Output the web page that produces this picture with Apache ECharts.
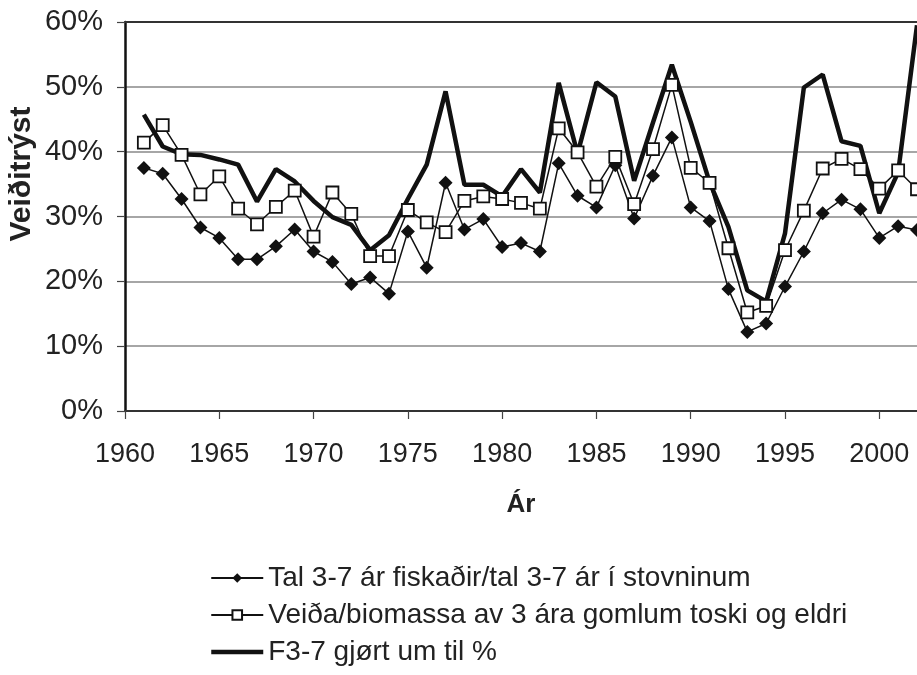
<!DOCTYPE html>
<html>
<head>
<meta charset="utf-8">
<script src="https://cdn.jsdelivr.net/npm/echarts@6/dist/echarts.min.js"></script>
<style>html,body{margin:0;padding:0;background:#fff;}#c{width:917px;height:675px;}</style>
</head>
<body>
<div id="c"></div>
<script>
const years = [1961,1962,1963,1964,1965,1966,1967,1968,1969,1970,1971,1972,1973,1974,1975,1976,1977,1978,1979,1980,1981,1982,1983,1984,1985,1986,1987,1988,1989,1990,1991,1992,1993,1994,1995,1996,1997,1998,1999,2000,2001,2002];
const talValues = [37.5,36.6,32.7,28.3,26.7,23.4,23.4,25.4,28.0,24.6,23.0,19.6,20.6,18.1,27.7,22.1,35.2,28.0,29.6,25.3,25.9,24.6,38.2,33.2,31.4,37.9,29.7,36.3,42.2,31.4,29.3,18.8,12.2,13.5,19.2,24.6,30.5,32.6,31.1,26.7,28.5,27.9];
const veidaValues = [41.4,44.1,39.5,33.4,36.2,31.2,28.8,31.5,34.0,26.9,33.7,30.4,23.9,23.9,31.0,29.1,27.6,32.4,33.1,32.7,32.1,31.2,43.6,39.9,34.6,39.2,31.9,40.4,50.3,37.5,35.2,25.1,15.2,16.2,24.8,30.9,37.4,38.9,37.3,34.3,37.1,34.2];
const f37Values = [45.7,40.8,39.6,39.5,38.8,38.0,32.3,37.3,35.4,32.4,29.9,28.7,24.8,27.1,32.7,38.0,49.3,34.9,34.9,33.1,37.3,33.7,50.6,39.7,50.7,48.5,35.5,44.5,53.4,44.6,35.3,28.4,18.6,16.9,27.4,49.9,51.9,41.6,40.9,30.5,36.8,59.5];
const seriesNames = ['Tal 3-7 ár fiskaðir/tal 3-7 ár í stovninum','Veiða/biomassa av 3 ára gomlum toski og eldri','F3-7 gjørt um til %'];
const yTickLabels = ['0%','10%','20%','30%','40%','50%','60%'];
const xTitle = 'Ár';
const yTitle = 'Veiðitrýst';

const pair = arr => years.map((y,i)=>[y,arr[i]]);
const FONT = "'Liberation Sans', Arial, sans-serif";
const chart = echarts.init(document.getElementById('c'), null, {renderer:'canvas'});
chart.setOption({
  animation:false,
  backgroundColor:'#fff',
  textStyle:{fontFamily:FONT},
  grid:{left:125,right:-6,top:22,bottom:264,containLabel:false},
  graphic:[{
    type:'text',x:22,y:174,rotation:Math.PI/2,
    style:{text:yTitle,font:"bold 30px 'Liberation Sans', Arial, sans-serif",fill:'#222',textAlign:'center',textVerticalAlign:'middle'}
  }],
  legend:{
    orient:'vertical',left:204,top:559,itemWidth:52,itemHeight:12,itemGap:9,
    textStyle:{fontSize:28,color:'#222',fontFamily:FONT},
    data:[
      {name:seriesNames[0]},
      {name:seriesNames[1]},
      {name:seriesNames[2],itemStyle:{color:'transparent',borderColor:'transparent',borderWidth:0,opacity:0},lineStyle:{width:4.5,color:'#111'}}
    ]
  },
  xAxis:[{
    type:'value',min:1960,max:2002,interval:5,
    name:xTitle,nameLocation:'middle',nameGap:81,
    nameTextStyle:{fontSize:26,fontWeight:'bold',color:'#222',fontFamily:FONT},
    axisLine:{show:true,onZero:false,lineStyle:{color:'#333',width:2}},
    axisTick:{show:true,inside:false,length:8,lineStyle:{color:'#444',width:1.2}},
    axisLabel:{fontSize:27,color:'#222',margin:30,showMaxLabel:false,formatter:v=>String(v),fontFamily:FONT},
    splitLine:{show:false}
  },{
    type:'value',min:1960,max:2002,position:'top',
    axisLine:{show:true,onZero:false,lineStyle:{color:'#333',width:2}},
    axisTick:{show:false},axisLabel:{show:false},splitLine:{show:false}
  }],
  yAxis:{
    type:'value',min:0,max:60,interval:10,
    axisLine:{show:true,lineStyle:{color:'#111',width:2.5}},
    axisTick:{show:true,inside:false,length:8,lineStyle:{color:'#444',width:1.2}},
    axisLabel:{fontSize:29,color:'#222',margin:22,formatter:v=>yTickLabels[Math.round(v/10)],fontFamily:FONT},
    splitLine:{show:true,lineStyle:{color:'#888',width:1.5}}
  },
  series:[{
    name:seriesNames[0],type:'line',data:pair(talValues),z:3,
    symbol:'diamond',symbolSize:14,showAllSymbol:true,
    lineStyle:{color:'#111',width:1.5},itemStyle:{color:'#111'}
  },{
    name:seriesNames[1],type:'line',data:pair(veidaValues),z:4,
    symbol:'rect',symbolSize:12,showAllSymbol:true,
    lineStyle:{color:'#111',width:1.5},itemStyle:{color:'#fff',borderColor:'#111',borderWidth:1.8}
  },{
    name:seriesNames[2],type:'line',data:pair(f37Values),z:2,
    symbol:'none',
    lineStyle:{color:'#111',width:4.5},itemStyle:{color:'#111'}
  }]
});
</script>
</body>
</html>
